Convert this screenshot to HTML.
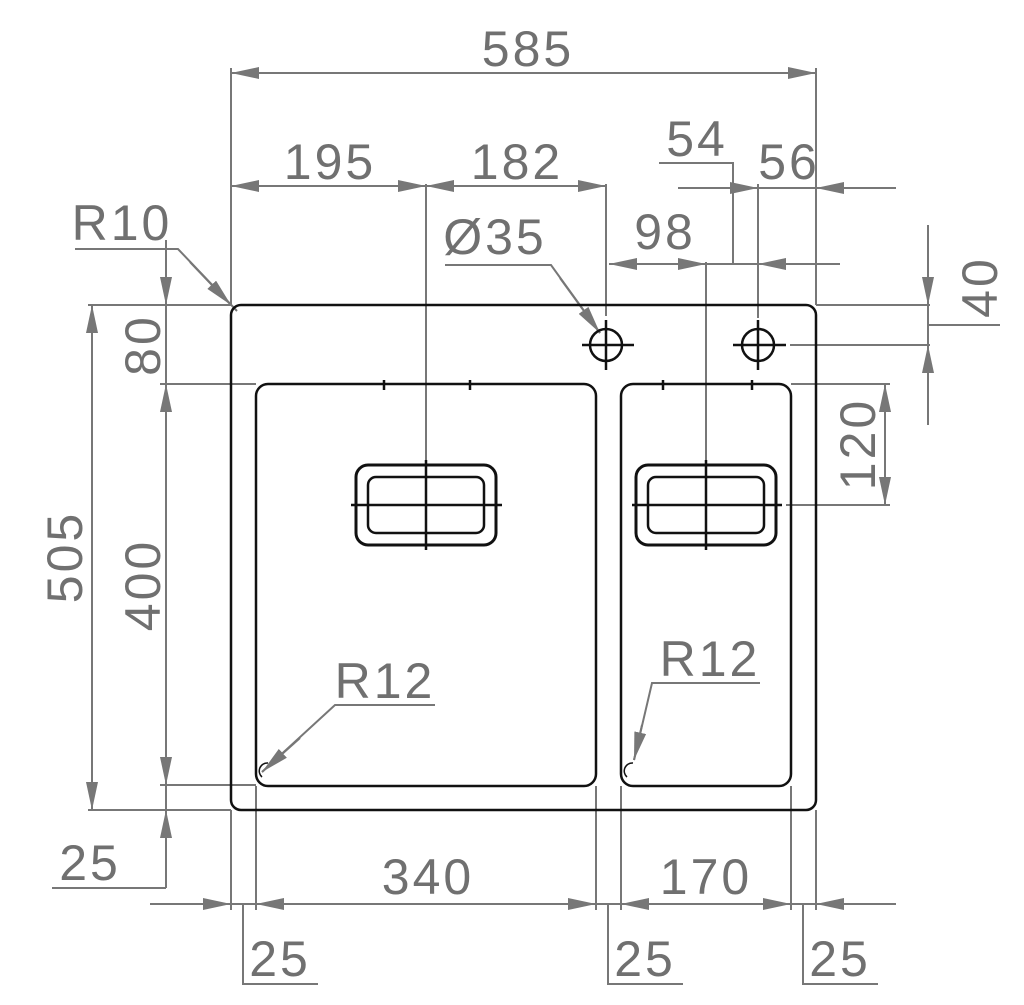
<!DOCTYPE html>
<html><head><meta charset="utf-8"><style>
html,body{margin:0;padding:0;background:#fff;}
svg{display:block}
text{font-family:"Liberation Sans",sans-serif;font-size:50px;letter-spacing:3px;fill:#707070;}
</style></head><body>
<svg width="1024" height="1005" viewBox="0 0 1024 1005" xmlns="http://www.w3.org/2000/svg">
<defs>
<marker id="a" markerUnits="userSpaceOnUse" viewBox="0 0 28 12" markerWidth="28" markerHeight="12" refX="28" refY="6" orient="auto">
<path d="M0,0 L28,6 L0,12 z" fill="#777"/>
</marker>
</defs>
<g stroke="#777" stroke-width="2" fill="none">
<line x1="231" y1="68" x2="231" y2="305"/>
<line x1="816" y1="68" x2="816" y2="305"/>
<line x1="231" y1="73" x2="816" y2="73"/>
<line x1="300" y1="73" x2="231" y2="73" marker-end="url(#a)"/>
<line x1="750" y1="73" x2="816" y2="73" marker-end="url(#a)"/>
<line x1="231" y1="186" x2="606" y2="186"/>
<line x1="300" y1="186" x2="231" y2="186" marker-end="url(#a)"/>
<line x1="380" y1="186" x2="426" y2="186" marker-end="url(#a)"/>
<line x1="480" y1="186" x2="426" y2="186" marker-end="url(#a)"/>
<line x1="560" y1="186" x2="606" y2="186" marker-end="url(#a)"/>
<line x1="606" y1="184" x2="606" y2="316"/>
<line x1="426" y1="184" x2="426" y2="465"/>
<polyline points="659,163 733,163 733,264"/>
<line x1="678" y1="188" x2="896" y2="188"/>
<line x1="700" y1="188" x2="758" y2="188" marker-end="url(#a)"/>
<line x1="880" y1="188" x2="816" y2="188" marker-end="url(#a)"/>
<line x1="758" y1="184" x2="758" y2="318"/>
<line x1="609" y1="264" x2="840" y2="264"/>
<line x1="660" y1="264" x2="609" y2="264" marker-end="url(#a)"/>
<line x1="660" y1="264" x2="706" y2="264" marker-end="url(#a)"/>
<line x1="810" y1="264" x2="758" y2="264" marker-end="url(#a)"/>
<line x1="706" y1="262" x2="706" y2="465"/>
<polyline points="445,265 551,265 600,333"/>
<line x1="560" y1="278" x2="600" y2="333" marker-end="url(#a)"/>
<polyline points="75,249 178,249 237,311"/>
<line x1="190" y1="262" x2="231" y2="305" marker-end="url(#a)"/>
<line x1="88" y1="305" x2="231" y2="305"/>
<line x1="160" y1="384" x2="256" y2="384"/>
<line x1="160" y1="785" x2="256" y2="785"/>
<line x1="88" y1="810" x2="231" y2="810"/>
<line x1="166" y1="240" x2="166" y2="888"/>
<line x1="166" y1="260" x2="166" y2="305" marker-end="url(#a)"/>
<line x1="166" y1="430" x2="166" y2="384" marker-end="url(#a)"/>
<line x1="166" y1="740" x2="166" y2="785" marker-end="url(#a)"/>
<line x1="166" y1="850" x2="166" y2="810" marker-end="url(#a)"/>
<line x1="52" y1="888" x2="166" y2="888"/>
<line x1="92" y1="305" x2="92" y2="810"/>
<line x1="92" y1="350" x2="92" y2="305" marker-end="url(#a)"/>
<line x1="92" y1="765" x2="92" y2="810" marker-end="url(#a)"/>
<line x1="816" y1="305" x2="930" y2="305"/>
<line x1="790" y1="345" x2="930" y2="345"/>
<line x1="928" y1="225" x2="928" y2="425"/>
<line x1="928" y1="260" x2="928" y2="305" marker-end="url(#a)"/>
<line x1="928" y1="390" x2="928" y2="345" marker-end="url(#a)"/>
<line x1="928" y1="325" x2="1000" y2="325"/>
<line x1="791" y1="384" x2="890" y2="384"/>
<line x1="786" y1="505" x2="890" y2="505"/>
<line x1="885" y1="384" x2="885" y2="505"/>
<line x1="885" y1="430" x2="885" y2="384" marker-end="url(#a)"/>
<line x1="885" y1="460" x2="885" y2="505" marker-end="url(#a)"/>
<line x1="231" y1="810" x2="231" y2="910"/>
<line x1="256" y1="786" x2="256" y2="910"/>
<line x1="596" y1="786" x2="596" y2="910"/>
<line x1="621" y1="786" x2="621" y2="910"/>
<line x1="791" y1="786" x2="791" y2="910"/>
<line x1="816" y1="810" x2="816" y2="910"/>
<line x1="150" y1="904" x2="896" y2="904"/>
<line x1="180" y1="904" x2="231" y2="904" marker-end="url(#a)"/>
<line x1="300" y1="904" x2="256" y2="904" marker-end="url(#a)"/>
<line x1="550" y1="904" x2="596" y2="904" marker-end="url(#a)"/>
<line x1="665" y1="904" x2="621" y2="904" marker-end="url(#a)"/>
<line x1="745" y1="904" x2="791" y2="904" marker-end="url(#a)"/>
<line x1="860" y1="904" x2="816" y2="904" marker-end="url(#a)"/>
<polyline points="243,904 243,984 318,984"/>
<polyline points="608,904 608,984 683,984"/>
<polyline points="803,904 803,984 878,984"/>
<polyline points="435,705 335,705 262,772"/>
<line x1="300" y1="738" x2="262" y2="772" marker-end="url(#a)"/>
<polyline points="760,683 652,683 634,760"/>
<line x1="642" y1="725" x2="634" y2="760" marker-end="url(#a)"/>
</g>
<g stroke="#111" stroke-width="2.5" fill="none">
<rect x="231" y="305" width="585" height="505" rx="10"/>
<rect x="256" y="384" width="340" height="402" rx="12"/>
<rect x="621" y="384" width="170" height="402" rx="12"/>
<rect x="356" y="465" width="140" height="80" rx="12" stroke-width="3"/>
<rect x="368" y="477" width="116" height="56" rx="8"/>
<line x1="426" y1="460" x2="426" y2="550"/>
<line x1="351" y1="505" x2="502" y2="505"/>
<rect x="636" y="465" width="140" height="80" rx="12" stroke-width="3"/>
<rect x="648" y="477" width="116" height="56" rx="8"/>
<line x1="706" y1="460" x2="706" y2="550"/>
<line x1="632" y1="505" x2="782" y2="505"/>
<circle cx="606" cy="345" r="16"/>
<line x1="582" y1="345" x2="634" y2="345"/><line x1="606" y1="320" x2="606" y2="370"/>
<circle cx="758" cy="345" r="16"/>
<line x1="733" y1="345" x2="786" y2="345"/><line x1="758" y1="320" x2="758" y2="370"/>
<line x1="384" y1="380" x2="384" y2="390"/><line x1="470" y1="380" x2="470" y2="390"/>
<line x1="663" y1="380" x2="663" y2="390"/><line x1="752" y1="380" x2="752" y2="390"/>
<path d="M268,763 a8,8 0 0 0 -6,14" stroke-width="1.5"/>
<path d="M633,763 a8,8 0 0 0 -6,14" stroke-width="1.5"/>
</g>
<text x="528" y="66" text-anchor="middle">585</text>
<text x="330" y="179" text-anchor="middle">195</text>
<text x="517" y="179" text-anchor="middle">182</text>
<text x="697" y="156" text-anchor="middle">54</text>
<text x="789" y="179" text-anchor="middle">56</text>
<text x="665" y="249" text-anchor="middle">98</text>
<text x="495" y="254" text-anchor="middle">Ø35</text>
<text x="122" y="240" text-anchor="middle">R10</text>
<text x="385" y="698" text-anchor="middle">R12</text>
<text x="710" y="676" text-anchor="middle">R12</text>
<text x="90" y="880" text-anchor="middle">25</text>
<text x="428" y="894" text-anchor="middle">340</text>
<text x="706" y="894" text-anchor="middle">170</text>
<text x="280" y="976" text-anchor="middle">25</text>
<text x="645" y="976" text-anchor="middle">25</text>
<text x="840" y="976" text-anchor="middle">25</text>
<text transform="translate(82,557) rotate(-90)" text-anchor="middle">505</text>
<text transform="translate(160,345) rotate(-90)" text-anchor="middle">80</text>
<text transform="translate(160,585) rotate(-90)" text-anchor="middle">400</text>
<text transform="translate(997,287) rotate(-90)" text-anchor="middle">40</text>
<text transform="translate(875,444) rotate(-90)" text-anchor="middle">120</text>
</svg>
</body></html>
